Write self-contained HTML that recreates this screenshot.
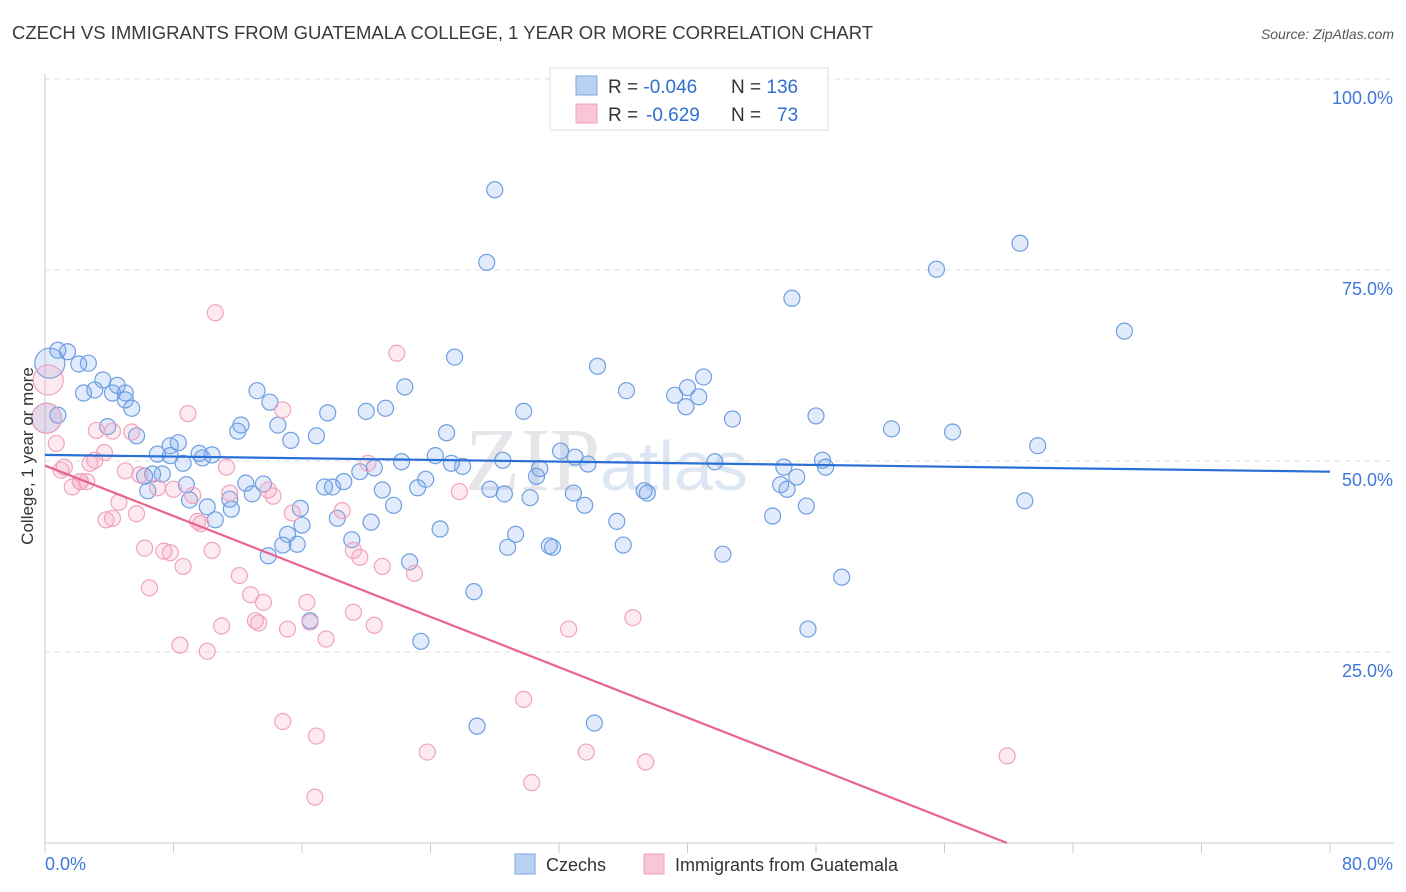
<!DOCTYPE html>
<html><head><meta charset="utf-8"><style>
body{margin:0;background:#fff;font-family:"Liberation Sans",sans-serif;}
svg{display:block}
</style></head><body>
<svg id="c" width="1406" height="892">
<text x="12" y="39" font-size="18.5" fill="#3a3a3a">CZECH VS IMMIGRANTS FROM GUATEMALA COLLEGE, 1 YEAR OR MORE CORRELATION CHART</text>
<text x="1394" y="39" font-size="14" fill="#555" font-style="italic" text-anchor="end">Source: ZipAtlas.com</text>
<text x="465" y="490" font-size="90" fill="#e6e6ea" font-family="Liberation Serif">ZIP<tspan fill="#dde6f3" font-family="Liberation Sans" font-size="70">atlas</tspan></text>
<g id="grid"></g><g id="pts"></g><g id="trend"></g>
<text transform="translate(33,456) rotate(-90)" font-size="17" fill="#333" text-anchor="middle">College, 1 year or more</text>
<g>
<rect x="550" y="68" width="278" height="62" fill="#fff" stroke="#ddd"/>
<rect x="576" y="76" width="21" height="19" fill="#b8d2f4" stroke="#7aa7e6"/>
<rect x="576" y="104" width="21" height="19" fill="#f9c6d5" stroke="#f0a0bc"/>
<text x="608" y="93" font-size="19" fill="#333">R = <tspan fill="#2f6fd0">-0.046</tspan><tspan x="731">N = </tspan><tspan fill="#2f6fd0">136</tspan></text>
<text x="608" y="121" font-size="19" fill="#333">R = <tspan x="646" fill="#2f6fd0">-0.629</tspan><tspan x="731">N = </tspan><tspan x="777" fill="#2f6fd0">73</tspan></text>
</g>
<g>
<rect x="515" y="854" width="20" height="20" fill="#b8d2f4" stroke="#7aa7e6"/>
<text x="546" y="871" font-size="18" fill="#333">Czechs</text>
<rect x="644" y="854" width="20" height="20" fill="#f9c6d5" stroke="#f0a0bc"/>
<text x="675" y="871" font-size="18" fill="#333">Immigrants from Guatemala</text>
</g>
</svg>
<script>
const yTicks=[25,50,75,100];
const yTickLabels=["25.0%","50.0%","75.0%","100.0%"];
const xMinLabel="0.0%", xMaxLabel="80.0%";
const czX=[
28.0,27.5,60.7,55.5,46.5,67.2,0.8,1.4,2.1,2.7,
2.4,3.1,3.6,4.2,4.5,5.0,5.0,5.4,3.9,5.7,
0.8,25.5,34.4,36.2,41.0,40.0,39.2,40.7,39.9,22.4,
21.2,20.0,17.6,13.2,14.0,12.2,12.0,14.5,15.3,16.9,
25.0,29.8,32.1,33.0,33.8,32.9,33.6,37.3,37.5,35.6,
36.0,42.2,41.7,42.8,48.0,48.4,48.6,46.8,46.0,45.8,
46.2,47.4,45.3,49.6,47.5,52.7,56.5,61.8,61.0,8.3,
7.8,7.0,7.8,8.6,9.6,10.4,9.8,6.7,6.2,7.3,
6.4,8.8,9.0,10.1,11.5,11.6,10.6,12.9,12.5,13.6,
15.9,15.1,16.0,15.7,14.8,13.9,16.5,17.4,17.9,18.6,
18.2,19.1,20.3,19.6,20.5,21.0,21.7,22.2,23.2,23.7,
24.3,25.3,26.0,24.6,22.7,23.4,26.7,27.7,28.6,28.5,
30.2,30.6,30.8,29.3,28.8,31.6,31.4,26.9,34.2,0.1,
0.3];
const czY=[
85.5,76.0,78.5,75.1,71.3,67.0,64.5,64.3,62.7,62.8,
58.9,59.3,60.6,58.9,59.9,58.9,58.0,56.9,54.5,53.3,
56.0,63.6,62.4,59.2,61.0,59.6,58.6,58.4,57.1,59.7,
56.9,56.5,56.3,59.2,57.7,54.7,53.9,54.7,52.7,53.3,
53.7,56.5,51.3,50.5,49.6,45.8,44.2,46.1,45.8,42.1,
39.0,37.8,49.9,55.5,55.9,50.1,49.2,47.9,49.2,46.9,
46.3,44.1,42.8,34.8,28.0,54.2,53.8,52.0,44.8,52.4,
52.0,50.9,50.7,49.7,51.0,50.8,50.4,48.3,48.0,48.3,
46.1,46.9,44.9,44.0,45.0,43.7,42.3,45.7,47.1,47.0,
43.8,40.4,41.6,39.1,39.0,37.6,29.1,46.6,46.6,47.3,
42.5,39.7,42.0,48.6,49.1,46.2,44.2,49.9,46.5,47.6,
50.7,49.7,49.3,41.1,36.8,26.4,32.9,46.3,45.7,50.1,
45.2,48.0,49.0,40.4,38.7,38.7,38.9,15.3,15.7,55.6,
62.8];
const guX=[0.2,0.1,0.7,1.2,1.0,1.7,2.2,2.6,2.8,3.1,3.7,3.2,4.2,4.2,3.8,4.6,5.0,5.4,5.7,5.9,6.2,6.5,7.0,7.4,7.8,8.0,8.4,8.6,9.2,9.5,9.7,10.1,10.4,11.0,11.3,11.5,10.6,8.9,12.1,12.8,13.1,13.3,13.6,13.9,14.2,14.8,14.8,15.1,15.4,16.3,16.5,16.9,16.8,17.5,18.5,19.2,19.2,19.6,20.1,20.5,21.0,21.9,23.0,23.8,25.8,29.8,30.3,32.6,33.7,36.6,37.4,59.9,2.2];
const guY=[60.6,55.6,52.3,49.2,48.8,46.6,47.3,47.3,49.7,50.1,51.1,54.0,53.9,42.5,42.3,44.6,48.7,53.8,43.1,48.2,38.6,33.4,46.5,38.2,38.0,46.3,25.9,36.2,45.5,42.1,41.8,25.1,38.3,28.4,49.2,45.8,69.4,56.2,35.0,32.5,29.1,28.8,31.5,46.2,45.4,15.9,56.7,28.0,43.2,31.5,28.9,14.0,6.0,26.7,43.5,30.2,38.3,37.4,49.7,28.5,36.2,64.1,35.3,11.9,46.0,18.8,7.9,28.0,11.9,29.5,10.6,11.4,47.3];
const L=45,R=1330,T=79,B=843;
const sx=v=>L+(v/80)*(R-L), sy=v=>B-(v/100)*(B-T);
const NS="http://www.w3.org/2000/svg";
function mk(t,a,p){const e=document.createElementNS(NS,t);for(const k in a)e.setAttribute(k,a[k]);p.appendChild(e);return e;}
const grid=document.getElementById('grid');
mk('line',{x1:L,y1:T-5,x2:L,y2:B,stroke:'#ccc'},grid);
mk('line',{x1:L,y1:B,x2:1394,y2:B,stroke:'#ccc'},grid);
yTicks.forEach((t,i)=>{
 const g=mk('line',{x1:L,y1:sy(t),x2:1394,y2:sy(t),stroke:'#ddd','stroke-dasharray':'5,5'},grid);
 
 
 const tx=mk('text',{x:1393,y:sy(t)+25,'font-size':18,fill:'#3f78d8','text-anchor':'end'},grid);
 tx.textContent=yTickLabels[i];
 
 
});
for(let i=0;i<=10;i++){const l=mk('line',{x1:sx(i*8),y1:B,x2:sx(i*8),y2:B+10,stroke:'#ccc'},grid);
 
 }
let t0=mk('text',{x:45,y:870,'font-size':18,fill:'#3f78d8'},grid);t0.textContent=xMinLabel;


let t1=mk('text',{x:1393,y:870,'font-size':18,fill:'#3f78d8','text-anchor':'end'},grid);t1.textContent=xMaxLabel;


const pts=document.getElementById('pts');
const nCz=Math.min(czX.length,czY.length);
for(let i=0;i<nCz;i++){const x=czX[i];const r=x<0.5?15:8;const c=mk('circle',{cx:sx(x),cy:sy(czY[i]),r:r,fill:'rgba(120,165,235,0.22)',stroke:'#6e9fe2','stroke-width':1.2},pts);
 
 }
const nGu=Math.min(guX.length,guY.length);
for(let i=0;i<nGu;i++){const x=guX[i];const r=x<0.3?15:8;const c=mk('circle',{cx:sx(x),cy:sy(guY[i]),r:r,fill:'rgba(245,150,180,0.2)',stroke:'#f0a3bf','stroke-width':1.2},pts);
 
 }
const tr=document.getElementById('trend');
const bl=mk('line',{x1:sx(0),y1:sy(50.8),x2:sx(80),y2:sy(48.6),stroke:'#2a6fd6','stroke-width':2.2},tr);


const pl=mk('line',{x1:sx(0),y1:sy(49.4),x2:sx(59.9),y2:sy(0),stroke:'#e8638f','stroke-width':2.2},tr);


</script>
</body></html>
